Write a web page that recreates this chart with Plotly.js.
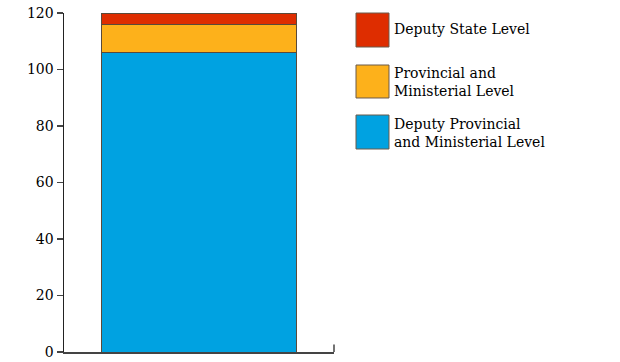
<!DOCTYPE html>
<html>
<head>
<meta charset="utf-8">
<script src="https://cdn.plot.ly/plotly-3.0.1.min.js"></script>
<style>html,body{margin:0;padding:0;background:#fff;}#chart{width:620px;height:362px;}</style>
</head>
<body>
<div id="chart"></div>
<script>
// ---- data ----
var categories = ["Total"];
var seriesNames = ["Deputy Provincial<br>and Ministerial Level", "Provincial and<br>Ministerial Level", "Deputy State Level"];
var deputyProvincial = [106];
var provincialMinisterial = [10];
var deputyState = [4];
var yTickVals = [0, 20, 40, 60, 80, 100, 120];

// ---- styles ----
var colors = ["#00a2e1", "#fdb11b", "#de2d00"];
var values = [deputyProvincial, provincialMinisterial, deputyState];
var FONT = "DejaVu Serif, Liberation Serif, serif";

var traces = values.map(function (v, i) {
  return {
    type: "bar",
    x: categories,
    y: v,
    name: seriesNames[i],
    marker: {color: colors[i], line: {color: "#5a4a3a", width: 1}},
    showlegend: false,
    hoverinfo: "skip"
  };
});

// custom legend (top item = last series)
var legendBoxes = [
  {y0: 0.8997, y1: 1.0, ty: 0.9528},
  {y0: 0.7493, y1: 0.8466, ty: 0.7965},
  {y0: 0.5988, y1: 0.6991, ty: 0.6460}
];
var shapes = [];
var annotations = [];
legendBoxes.forEach(function (b, k) {
  var idx = values.length - 1 - k;
  shapes.push({type: "rect", xref: "paper", yref: "paper", x0: 1.0815, x1: 1.2037, y0: b.y0, y1: b.y1,
    fillcolor: colors[idx], line: {color: "#6b5a4a", width: 1}});
  annotations.push({xref: "paper", yref: "paper", x: 1.2148, y: b.ty, xanchor: "left", yanchor: "middle",
    align: "left", showarrow: false, text: seriesNames[idx],
    font: {family: FONT, size: 14, color: "#000"}});
});
// small end tick at right of x axis
shapes.push({type: "line", xref: "paper", yref: "paper", x0: 1, x1: 1, y0: 0, y1: 0.022,
  line: {color: "#444", width: 1.5}});

var layout = {
  width: 620, height: 362,
  margin: {l: 64, r: 286, t: 13, b: 10, pad: 0},
  paper_bgcolor: "#fff", plot_bgcolor: "#fff",
  barmode: "stack",
  bargap: 0.28,
  font: {family: FONT, size: 14, color: "#000"},
  xaxis: {showline: true, linecolor: "#444", linewidth: 1.5, showticklabels: false, ticks: "",
    showgrid: false, zeroline: false, range: [-0.5, 0.5], fixedrange: true},
  yaxis: {range: [0, 120], tickvals: yTickVals, ticks: "outside", ticklen: 6, tickwidth: 1.5,
    tickcolor: "#444", showline: true, linecolor: "#222", linewidth: 1.5, showgrid: false,
    zeroline: false, tickfont: {family: FONT, size: 14, color: "#000"}, fixedrange: true},
  shapes: shapes,
  annotations: annotations,
  showlegend: false
};

Plotly.newPlot("chart", traces, layout, {displayModeBar: false, staticPlot: true});
</script>
</body>
</html>
